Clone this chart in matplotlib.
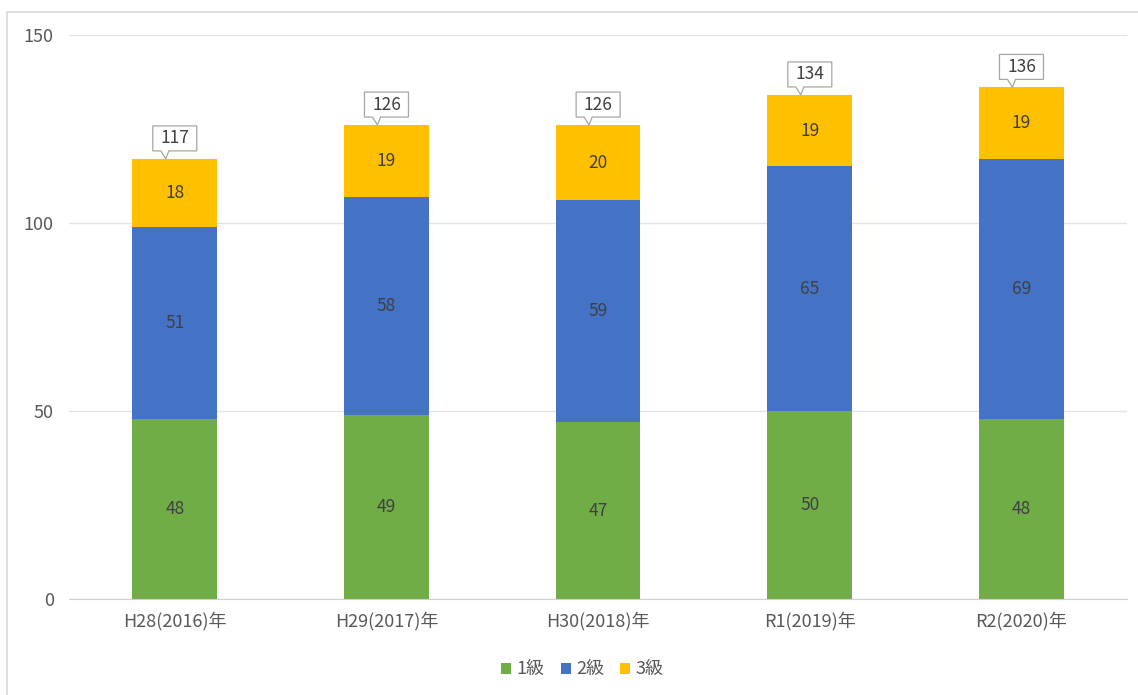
import numpy as np
import matplotlib
matplotlib.use('Agg')
import matplotlib.pyplot as plt
import matplotlib.transforms as mtransforms
from matplotlib.patches import Polygon, Rectangle

plt.rcParams['font.family'] = ['Noto Sans CJK JP', 'DejaVu Sans']

years = ['H28(2016)年', 'H29(2017)年', 'H30(2018)年', 'R1(2019)年', 'R2(2020)年']
grade1 = [48, 49, 47, 50, 48]
grade2 = [51, 58, 59, 65, 69]
grade3 = [18, 19, 20, 19, 19]
series_names = ['1級', '2級', '3級']
colors = ['#70AD47', '#4472C4', '#FFC000']

fig = plt.figure(figsize=(11.38, 6.95), dpi=100)
ax = fig.add_axes([0.0606, 0.138, 0.93, 0.812])

# outer chart frame
fig.patches.append(Rectangle((7 / 1138, -0.05), 1.1, 1 - 12 / 695 + 0.05,
                             transform=fig.transFigure, fill=False,
                             edgecolor='#d9d9d9', linewidth=1.2))

x = np.arange(len(years))
width = 0.4
bottom = np.zeros(len(years))
for vals, name, col in zip([grade1, grade2, grade3], series_names, colors):
    vals = np.array(vals)
    ax.bar(x, vals, width, bottom=bottom, color=col, label=name, zorder=2)
    for xi, b, v in zip(x, bottom, vals):
        ax.text(xi, b + v / 2, str(v), ha='center', va='center',
                fontsize=12.5, color='#404040', zorder=3)
    bottom += vals

totals = bottom
# callout boxes with total values
for xi, t in zip(x, totals):
    trans = fig.dpi_scale_trans + mtransforms.ScaledTranslation(xi, t, ax.transData)
    w, h, gap = 0.22, 0.25, 0.08
    shape = [(-w, gap), (-0.14, gap), (-0.09, 0.0), (-0.06, gap),
             (w, gap), (w, gap + h), (-w, gap + h)]
    poly = Polygon(shape, closed=True, transform=trans, facecolor='white',
                   edgecolor='#a6a6a6', linewidth=0.9, zorder=4, clip_on=False)
    ax.add_patch(poly)
    ax.text(0, gap + h / 2, str(int(t)), transform=trans, ha='center', va='center',
            fontsize=12.5, color='#404040', zorder=5)

ax.set_xlim(-0.5, len(years) - 0.5)
ax.set_ylim(0, 150)
ax.set_yticks([0, 50, 100, 150])
ax.set_xticks(x)
ax.set_xticklabels(years)
ax.tick_params(axis='both', length=0, labelsize=13, labelcolor='#595959')
ax.tick_params(axis='y', pad=11)
ax.tick_params(axis='x', pad=9)
ax.grid(axis='y', color='#e3e3e3', linewidth=1, zorder=0)
for s in ['top', 'right', 'left']:
    ax.spines[s].set_visible(False)
ax.spines['bottom'].set_color('#d0d0d0')

leg = ax.legend(loc='upper center', bbox_to_anchor=(0.485, -0.08), ncol=3,
                frameon=False, fontsize=13, handlelength=0.55, handleheight=0.55,
                handletextpad=0.3, columnspacing=0.9)
for t in leg.get_texts():
    t.set_color('#595959')

plt.savefig('out.png', dpi=100)
